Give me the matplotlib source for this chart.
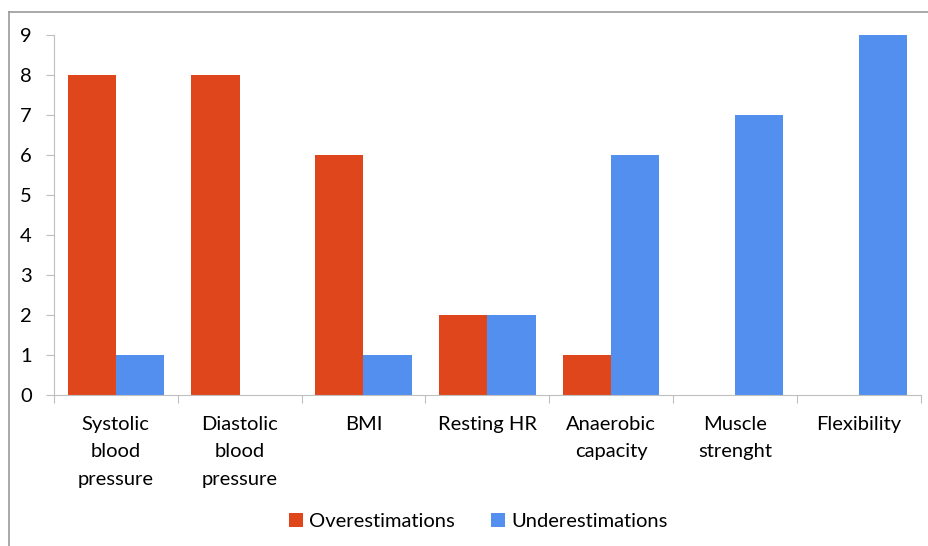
import matplotlib.pyplot as plt
import numpy as np
from matplotlib.lines import Line2D

categories = ["Systolic\nblood\npressure", "Diastolic\nblood\npressure", "BMI",
              "Resting HR", "Anaerobic\ncapacity", "Muscle\nstrenght", "Flexibility"]
overestimations = [8, 8, 6, 2, 1, 0, 0]
underestimations = [1, 0, 1, 2, 6, 7, 9]

red = "#E0461B"
blue = "#528FEF"
axis_grey = "#BFBFBF"

plt.rcParams["font.family"] = ["Lato", "DejaVu Sans"]
fs = 14.5

fig = plt.figure(figsize=(9.29, 5.46), dpi=100)
ax = fig.add_axes([0.058, 0.2766, 0.933, 0.66])

x = np.arange(len(categories))
w = 0.39
ax.bar(x - w / 2, overestimations, w, color=red, label="Overestimations")
ax.bar(x + w / 2, underestimations, w, color=blue, label="Underestimations")

ax.set_xlim(-0.5, len(categories) - 0.5)
ax.set_ylim(0, 9)
ax.set_yticks(range(0, 10))
ax.tick_params(axis="y", labelsize=fs, length=6, color=axis_grey, pad=10)

# separateurs de categories sur l'axe x
ax.set_xticks(np.arange(-0.5, len(categories), 1))
ax.set_xticklabels([])
ax.tick_params(axis="x", length=6, color=axis_grey, direction="out")
ax.set_xticks(x, minor=True)
ax.set_xticklabels(categories, minor=True, fontsize=fs, linespacing=1.75)
ax.tick_params(axis="x", which="minor", length=0, pad=15)

for s in ["top", "right"]:
    ax.spines[s].set_visible(False)
ax.spines["left"].set_color(axis_grey)
ax.spines["bottom"].set_color(axis_grey)

fig.legend(loc="center", bbox_to_anchor=(0.515, 0.045), ncol=2, frameon=False,
           fontsize=fs, handlelength=0.7, handleheight=0.7, handletextpad=0.3,
           columnspacing=1.8)

# cadre du graphique
fig.add_artist(Line2D([0.0102, 1.0], [0.978, 0.978], color="#999999", lw=1.2))
fig.add_artist(Line2D([0.0102, 0.0102], [0.0, 0.978], color="#999999", lw=1.2))

fig.savefig("out.png", dpi=100)
